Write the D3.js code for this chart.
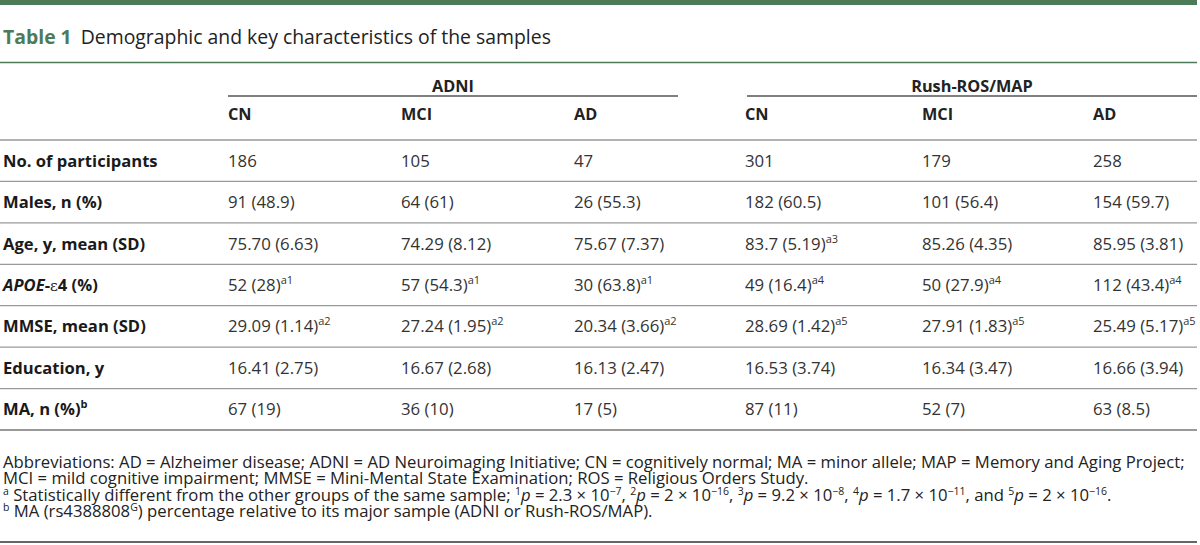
<!DOCTYPE html>
<html><head><meta charset="utf-8">
<script src="https://cdn.jsdelivr.net/npm/d3@7"></script>
<style>
html,body{margin:0;padding:0;background:#fff;}
svg{display:block;font-family:"Open Sans",sans-serif;}
</style></head>
<body><svg id="c" width="1200" height="545"></svg>
<script>
const tableNumber = "Table 1";
const tableTitle = "Demographic and key characteristics of the samples";
const groups = ["ADNI", "Rush-ROS/MAP"];
const subgroups = ["CN", "MCI", "AD", "CN", "MCI", "AD"];
const rowLabels = ["No. of participants", "Males, n (%)", "Age, y, mean (SD)", "APOE-ε4 (%)", "MMSE, mean (SD)", "Education, y", "MA, n (%)"];
const rowLabelSup = ["", "", "", "", "", "", "b"];
const participants = ["186", "105", "47", "301", "179", "258"];
const males = ["91 (48.9)", "64 (61)", "26 (55.3)", "182 (60.5)", "101 (56.4)", "154 (59.7)"];
const age = ["75.70 (6.63)", "74.29 (8.12)", "75.67 (7.37)", "83.7 (5.19)|a3", "85.26 (4.35)", "85.95 (3.81)"];
const apoe = ["52 (28)|a1", "57 (54.3)|a1", "30 (63.8)|a1", "49 (16.4)|a4", "50 (27.9)|a4", "112 (43.4)|a4"];
const mmse = ["29.09 (1.14)|a2", "27.24 (1.95)|a2", "20.34 (3.66)|a2", "28.69 (1.42)|a5", "27.91 (1.83)|a5", "25.49 (5.17)|a5"];
const education = ["16.41 (2.75)", "16.67 (2.68)", "16.13 (2.47)", "16.53 (3.74)", "16.34 (3.47)", "16.66 (3.94)"];
const minorAllele = ["67 (19)", "36 (10)", "17 (5)", "87 (11)", "52 (7)", "63 (8.5)"];
const footnotes = [
  [["Abbreviations: AD = Alzheimer disease; ADNI = AD Neuroimaging Initiative; CN = cognitively normal; MA = minor allele; MAP = Memory and Aging Project;", ""]],
  [["MCI = mild cognitive impairment; MMSE = Mini-Mental State Examination; ROS = Religious Orders Study.", ""]],
  [["a", "sup"], [" Statistically different from the other groups of the same sample; ", ""], ["1", "sup"], ["p", "i"], [" = 2.3 × 10", ""], ["−7", "sup"], [", ", ""], ["2", "sup"], ["p", "i"], [" = 2 × 10", ""], ["−16", "sup"], [", ", ""], ["3", "sup"], ["p", "i"], [" = 9.2 × 10", ""], ["−8", "sup"], [", ", ""], ["4", "sup"], ["p", "i"], [" = 1.7 × 10", ""], ["−11", "sup"], [", and ", ""], ["5", "sup"], ["p", "i"], [" = 2 × 10", ""], ["−16", "sup"], [".", ""]],
  [["b", "sup"], [" MA (rs4388808", ""], ["G", "sup"], [") percentage relative to its major sample (ADNI or Rush-ROS/MAP).", ""]]
];

const rows = [participants, males, age, apoe, mmse, education, minorAllele];
const green = "#4d7b58";
const svg = d3.select("#c");
const FS = 16.8, SUP = 11;

// top bar
svg.append("rect").attr("x", 0).attr("y", 0).attr("width", 1197).attr("height", 5).attr("fill", green);
const t = svg.append("text").attr("x", 3).attr("y", 44).attr("font-size", 19.4);
t.append("tspan").attr("font-weight", 700).attr("fill", green).text(tableNumber);
t.append("tspan").attr("dx", 9).attr("fill", "#222").text(tableTitle);
svg.append("line").attr("x1", 0).attr("x2", 1197).attr("y1", 62.5).attr("y2", 62.5).attr("stroke", green).attr("stroke-width", 1.3);

// scales
const x = d3.scaleOrdinal().domain(d3.range(6)).range([228, 401, 574, 745, 922, 1093]);
const y = d3.scaleBand().domain(d3.range(rows.length)).range([140, 430]);
const gx = d3.scaleOrdinal().domain(groups).range([[228, 678], [747, 1197]]);

// group headers
groups.forEach(g => {
  const [a, b] = gx(g);
  svg.append("text").attr("x", (a + b) / 2).attr("y", 92).attr("text-anchor", "middle")
    .attr("font-size", 16.3).attr("font-weight", 700).attr("fill", "#222").text(g);
  svg.append("line").attr("x1", a).attr("x2", b).attr("y1", 96).attr("y2", 96).attr("stroke", "#555").attr("stroke-width", 1.3);
});
subgroups.forEach((s, i) => {
  svg.append("text").attr("x", x(i)).attr("y", 120).attr("font-size", 16.3).attr("font-weight", 700).attr("fill", "#222").text(s);
});

// row lines
const lineYs = [140].concat(d3.range(rows.length).map(i => y(i) + y.bandwidth()));
lineYs.forEach((ly, i) => {
  svg.append("line").attr("x1", 0).attr("x2", 1197).attr("y1", ly).attr("y2", ly)
    .attr("stroke", i === lineYs.length - 1 ? "#777" : "#999").attr("stroke-width", 1.3);
});

// row labels
rowLabels.forEach((lab, i) => {
  const cy = y(i) + y.bandwidth() / 2 + 6;
  const tx = svg.append("text").attr("x", 3).attr("y", cy).attr("font-size", 16.6).attr("font-weight", 700).attr("fill", "#1a1a1a");
  if (lab.startsWith("APOE")) {
    tx.append("tspan").attr("font-style", "italic").text("APOE");
    tx.append("tspan").text("-");
    tx.append("tspan").attr("font-family", "DejaVu Serif, serif").attr("font-weight", 400).attr("font-size", 15).text("ε");
    tx.append("tspan").text("4 (%)");
  } else {
    tx.append("tspan").text(lab);
  }
  if (rowLabelSup[i]) tx.append("tspan").attr("font-size", SUP).attr("dy", -7).text(rowLabelSup[i]);
});

// cells
rows.forEach((vals, r) => {
  vals.forEach((v, c) => {
    const [main, sup] = v.split("|");
    const tx = svg.append("text").attr("x", x(c)).attr("y", y(r) + y.bandwidth() / 2 + 6)
      .attr("font-size", FS).attr("fill", "#333");
    tx.append("tspan").text(main);
    if (sup) tx.append("tspan").attr("font-size", SUP).attr("dy", -7).text(sup);
  });
});

// footnotes
footnotes.forEach((parts, i) => {
  const tx = svg.append("text").attr("x", 3).attr("y", 468 + i * 16.3).attr("font-size", 16.7).attr("fill", "#222");
  let raised = false;
  parts.forEach(([s, kind]) => {
    const sp = tx.append("tspan").text(s);
    if (kind === "sup") {
      sp.attr("font-size", 10.5);
      if (!raised) { sp.attr("dy", -6); raised = true; }
    } else {
      if (raised) { sp.attr("dy", 6); raised = false; }
      if (kind === "i") sp.attr("font-style", "italic");
    }
  });
});
svg.append("line").attr("x1", 0).attr("x2", 1197).attr("y1", 542).attr("y2", 542).attr("stroke", "#333").attr("stroke-width", 1.3);
</script></body></html>
